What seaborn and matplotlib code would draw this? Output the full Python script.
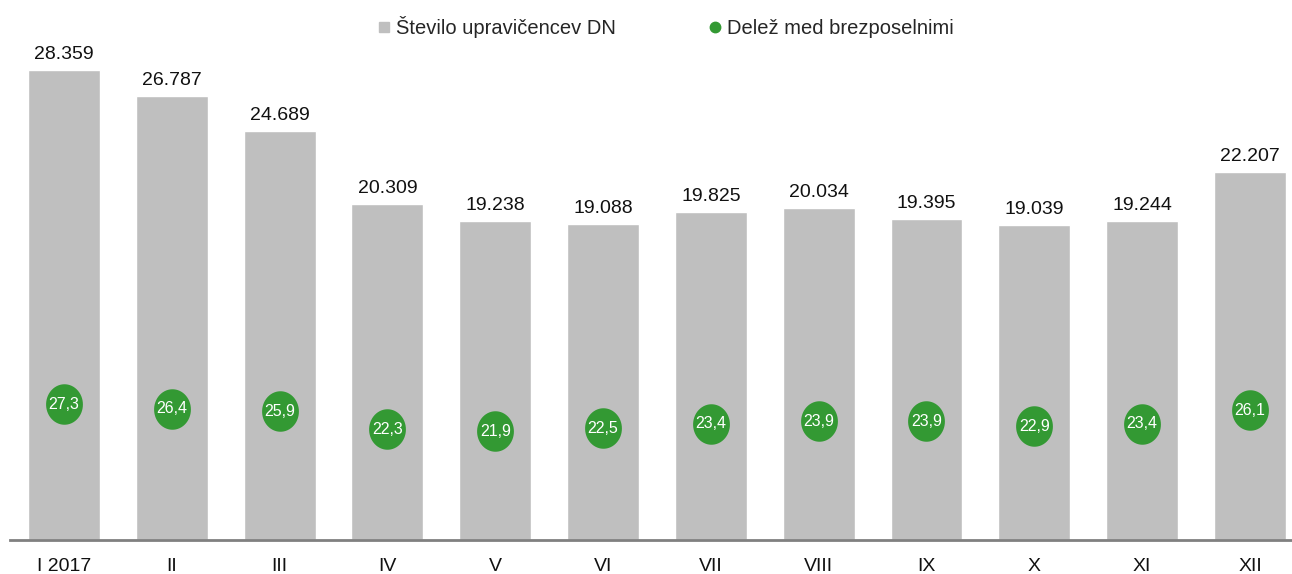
import matplotlib
matplotlib.use("Agg")
import matplotlib.pyplot as plt
import matplotlib.path as mpath
from matplotlib.lines import Line2D
import numpy as np
import pandas as pd
import seaborn as sns

months = ['I 2017', 'II', 'III', 'IV', 'V', 'VI', 'VII', 'VIII', 'IX', 'X', 'XI', 'XII']
upravicenci = [28359, 26787, 24689, 20309, 19238, 19088, 19825, 20034, 19395, 19039, 19244, 22207]
delez = [27.3, 26.4, 25.9, 22.3, 21.9, 22.5, 23.4, 23.9, 23.9, 22.9, 23.4, 26.1]

bar_color = '#BFBFBF'
green = '#339933'

sns.set_style('white')
plt.rcParams['font.family'] = ['Liberation Sans', 'DejaVu Sans']

df = pd.DataFrame({'mesec': months, 'st': upravicenci, 'delez': delez})
df['x'] = np.arange(len(months))

fig = plt.figure(figsize=(12.92, 5.74), dpi=100)
ax = fig.add_axes([10 / 1292, 34 / 574, 1282 / 1292, 497 / 574])

sns.barplot(data=df, x='mesec', y='st', color=bar_color, saturation=1, width=0.667, ax=ax)
ax.set_ylim(0, 30000)
ax.set_xlim(-0.5, 11.39)
labels = [f'{v:,}'.replace(',', '.') for v in upravicenci]
ax.bar_label(ax.containers[0], labels=labels, padding=5, fontsize=14, color='#111111')

ax.set_xlabel('')
ax.set_ylabel('')
ax.set_yticks([])
ax.tick_params(axis='x', length=0, pad=13, labelsize=14, colors='#111111')
for s in ['top', 'right', 'left']:
    ax.spines[s].set_visible(False)
ax.spines['bottom'].set_color('#808080')
ax.spines['bottom'].set_linewidth(2)

# secondary axis for the share
ax2 = ax.twinx()
t = np.linspace(0, 2 * np.pi, 60)
ellipse = mpath.Path(np.column_stack([np.cos(t), 1.1 * np.sin(t)]), closed=True)
ax2.scatter(df['x'], df['delez'], s=850, marker=ellipse, color=green, linewidths=0, zorder=3)
for i, v in enumerate(delez):
    ax2.text(i, v, f'{v:.1f}'.replace('.', ','), ha='center', va='center',
             color='white', fontsize=11.5, zorder=4)
ax2.set_ylim(0, 100)
ax2.set_yticks([])
for s in ['top', 'right', 'left', 'bottom']:
    ax2.spines[s].set_visible(False)

handles = [
    Line2D([], [], marker='s', linestyle='none', color=bar_color, markersize=7),
    Line2D([], [], marker='o', linestyle='none', color=green, markersize=7.5),
]
fig.legend(handles, ['Število upravičencev DN', 'Delež med brezposelnimi'],
           loc='center', bbox_to_anchor=(0.5155, 0.953), ncol=2, frameon=False,
           fontsize=14.5, handlelength=0.6, handletextpad=0.3, columnspacing=4.6)

fig.savefig('out.png', dpi=100)
